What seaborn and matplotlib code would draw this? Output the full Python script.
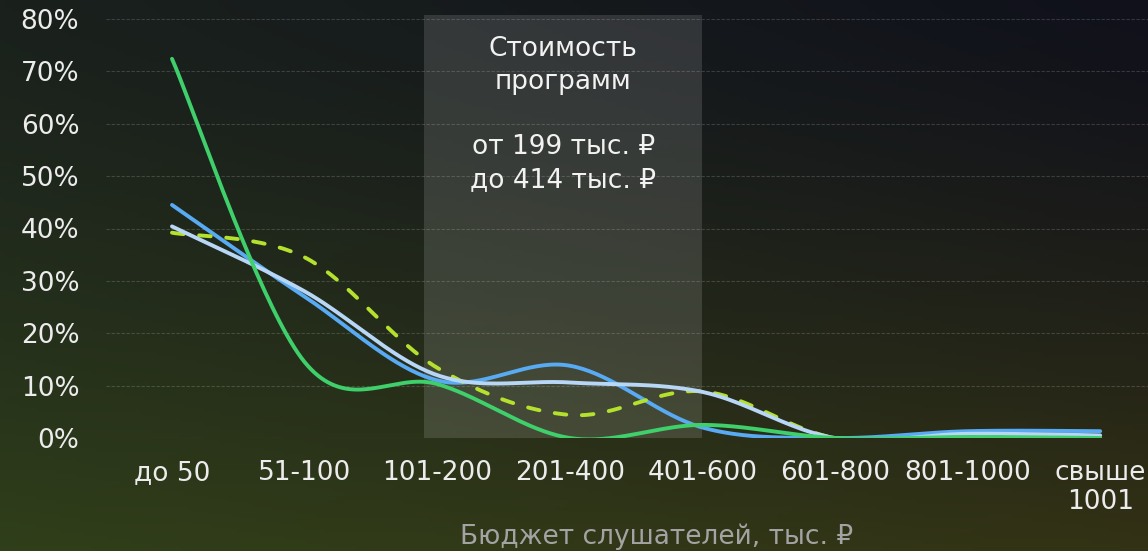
import numpy as np
import pandas as pd
import matplotlib
matplotlib.use("Agg")
import matplotlib.pyplot as plt
import seaborn as sns

# values (percent)
categories = ["до 50", "51-100", "101-200", "201-400", "401-600",
              "601-800", "801-1000", "свыше\n1001"]
green_vals = [72.4, 14.5, 10.3, 0.0, 2.5, 0.0, 0.2, 0.0]
blue_vals = [44.5, 27.0, 11.0, 13.8, 2.0, 0.0, 1.3, 1.3]
light_vals = [40.4, 28.0, 12.0, 10.6, 8.8, 0.0, 0.8, 0.5]
dashed_vals = [39.2, 34.5, 13.4, 4.4, 8.9, 0.0, 0.5, 0.3]

box_text = "Стоимость\nпрограмм\n\nот 199 тыс. ₽\nдо 414 тыс. ₽"
x_label = "Бюджет слушателей, тыс. ₽"


def smooth(vals, n=40):
    # Excel-like smoothed line: cubic Bezier with Catmull-Rom control points
    x = np.arange(len(vals), dtype=float)
    y = np.asarray(vals, dtype=float) / 100
    xs, ys = [], []
    for i in range(len(y) - 1):
        i0, i3 = max(i - 1, 0), min(i + 2, len(y) - 1)
        px = [x[i], x[i] + (x[i + 1] - x[i0]) / 6, x[i + 1] - (x[i3] - x[i]) / 6, x[i + 1]]
        py = [y[i], y[i] + (y[i + 1] - y[i0]) / 6, y[i + 1] - (y[i3] - y[i]) / 6, y[i + 1]]
        t = np.linspace(0, 1, n, endpoint=(i == len(y) - 2))
        b = [(1 - t) ** 3, 3 * (1 - t) ** 2 * t, 3 * (1 - t) * t ** 2, t ** 3]
        xs.append(sum(bk * pk for bk, pk in zip(b, px)))
        ys.append(sum(bk * pk for bk, pk in zip(b, py)))
    return pd.DataFrame({"x": np.concatenate(xs), "y": np.concatenate(ys)})


sns.set_style("white")
plt.rcParams["font.family"] = ["DejaVu Sans", "Noto Sans"]

W, H = 1148, 551
fig = plt.figure(figsize=(W / 100, H / 100), dpi=100)

# background gradient
bg = fig.add_axes([0, 0, 1, 1], zorder=0)
gx = np.linspace(0, 1, 300)[None, :]
gy = np.linspace(0, 1, 150)[:, None] ** 1.3
tl = np.array([0x1a, 0x21, 0x1d]) / 255
tr = np.array([0x10, 0x11, 0x1b]) / 255
bl = np.array([0x30, 0x3f, 0x1a]) / 255
br = np.array([0x33, 0x32, 0x15]) / 255
top = tl[None, None, :] * (1 - gx[..., None]) + tr[None, None, :] * gx[..., None]
bot = bl[None, None, :] * (1 - gx[..., None]) + br[None, None, :] * gx[..., None]
img = top * (1 - gy[..., None]) + bot * gy[..., None]
bg.imshow(img, aspect="auto", extent=[0, 1, 0, 1], origin="upper")
bg.axis("off")

# plot axes: categories at 172 + 132.6*i px, 0% at y=438, 80% at y=19
step = 132.6
left = (172 - step / 2) / W
ax = fig.add_axes([left, (H - 438) / H, 8 * step / W, (438 - 19) / H], zorder=1)
ax.set_facecolor("none")

ax.axvspan(1.9, 4.0, ymin=0, ymax=0.807 / 0.8, color="white", alpha=0.13,
           lw=0, clip_on=False, zorder=0)
ax.text(2.95, 0.767, box_text, ha="center", va="top", color="#f2f2f2",
        fontsize=19, linespacing=1.33, zorder=5)

for vals, color, z, dashed in [(blue_vals, "#58aaf2", 3, False),
                               (dashed_vals, "#b4e12d", 3.1, True),
                               (light_vals, "#b8d6f6", 3.2, False),
                               (green_vals, "#3fcf6b", 3.3, False)]:
    d = smooth(vals)
    sns.lineplot(data=d, x="x", y="y", sort=False, estimator=None, ax=ax,
                 color=color, lw=2.8, zorder=z,
                 linestyle=(0, (3.0, 4.0)) if dashed else "-",
                 dash_capstyle="round", solid_capstyle="round")

ax.set_xlim(-0.5, 7.5)
ax.set_ylim(0, 0.8)
ax.set_xticks(range(len(categories)))
ax.set_xticklabels(categories, linespacing=1.15)
ax.set_yticks(np.arange(0, 0.81, 0.1))
ax.set_yticklabels([f"{int(round(v * 100))}%" for v in np.arange(0, 0.81, 0.1)])
ax.tick_params(axis="both", length=0, labelsize=19, colors="#ececec")
ax.tick_params(axis="x", pad=16)
ax.tick_params(axis="y", pad=19)
ax.set_xlabel("")
ax.set_ylabel("")
ax.grid(axis="y", color="white", alpha=0.16, lw=0.8, linestyle=(0, (3, 1.5)))
ax.grid(axis="x", visible=False)
ax.set_axisbelow(True)
for s in ax.spines.values():
    s.set_visible(False)

fig.text(657 / W, 1 - 537 / H, x_label, ha="center", va="center",
         color="#a3a3a3", fontsize=19)

fig.savefig("out.png", dpi=100)
